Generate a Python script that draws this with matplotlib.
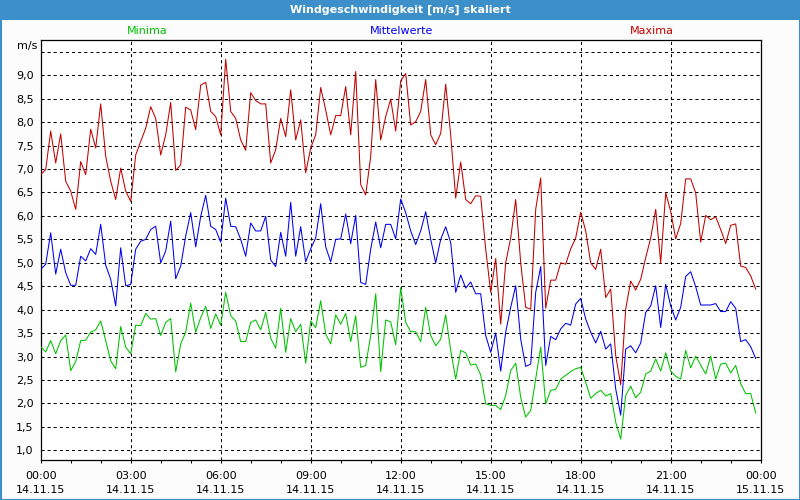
import matplotlib
matplotlib.use("Agg")
import matplotlib.pyplot as plt
from matplotlib.patches import Rectangle
import numpy as np

plt.rcParams['font.family'] = ['DejaVu Sans']
plt.rcParams['lines.scale_dashes'] = False

title = "Windgeschwindigkeit [m/s] skaliert"
series_names = ["Minima", "Mittelwerte", "Maxima"]
date_labels = ["14.11.15"] * 8 + ["15.11.15"]
time_labels = ["00:00", "03:00", "06:00", "09:00", "12:00", "15:00", "18:00", "21:00", "00:00"]

maxima = [6.88, 6.99, 7.81, 7.13, 7.75, 6.74, 6.53, 6.14, 7.16, 6.88, 7.85, 7.45, 8.39, 7.27, 6.74, 6.35, 7.02, 6.53, 6.31, 7.30, 7.59, 7.87, 8.33, 8.08, 7.30,
          7.73, 8.42, 6.97, 7.09, 8.32, 8.26, 7.84, 8.79, 8.85, 8.23, 8.12, 7.73, 9.34, 8.23, 8.08, 7.62, 7.40, 8.63, 8.46, 8.39, 8.39, 7.13, 7.41, 8.08,
          7.69, 8.69, 7.62, 8.05, 6.92, 7.45, 7.73, 8.74, 8.26, 7.73, 8.14, 8.14, 8.76, 7.73, 9.08, 6.67, 6.45, 7.27, 8.91, 7.62, 8.12, 8.49, 7.81, 8.88,
          9.04, 7.94, 8.01, 8.23, 8.91, 7.73, 7.52, 7.76, 8.81, 7.73, 6.38, 7.15, 6.35, 6.26, 6.43, 6.42, 5.29, 4.37, 5.09, 3.69, 5.00, 5.53, 6.35, 5.00,
          4.05, 4.01, 6.14, 6.81, 4.03, 4.63, 4.63, 5.00, 4.97, 5.30, 5.53, 6.08, 5.68, 5.00, 4.86, 5.29, 4.26, 4.44, 3.02, 2.40, 4.01, 4.61, 4.42, 4.65,
          5.11, 5.53, 6.14, 5.00, 6.49, 6.10, 5.51, 5.84, 6.79, 6.79, 6.49, 5.44, 6.01, 5.92, 5.98, 5.71, 5.41, 5.80, 5.83, 4.93, 4.90, 4.72, 4.44]

mittel = [4.86, 4.97, 5.64, 4.76, 5.29, 4.79, 4.52, 4.52, 5.14, 5.04, 5.30, 5.18, 5.82, 4.95, 4.65, 4.08, 5.32, 4.51, 4.54, 5.29, 5.46, 5.50, 5.71, 5.78, 5.00,
          5.25, 5.89, 4.66, 4.93, 5.57, 6.07, 5.34, 5.99, 6.44, 5.78, 5.71, 5.44, 6.38, 5.78, 5.77, 5.50, 5.14, 5.85, 5.68, 5.68, 5.99, 5.06, 4.92, 5.65,
          5.14, 6.29, 5.14, 5.77, 5.02, 5.30, 5.53, 6.26, 5.34, 5.02, 5.50, 5.51, 6.04, 5.41, 6.01, 4.58, 4.54, 5.29, 5.87, 5.32, 5.82, 5.82, 5.51, 6.36,
          6.07, 5.68, 5.39, 5.68, 6.09, 5.50, 5.00, 5.50, 5.77, 5.43, 4.37, 4.74, 4.46, 4.59, 4.34, 4.34, 3.45, 3.09, 3.50, 2.69, 3.52, 4.05, 4.51, 3.37,
          2.79, 2.84, 4.37, 4.92, 2.81, 3.43, 3.36, 3.59, 3.71, 3.67, 4.12, 4.24, 3.80, 3.52, 3.29, 3.54, 3.16, 3.27, 2.31, 1.75, 3.16, 3.23, 3.08, 3.29,
          3.94, 4.08, 4.51, 3.62, 4.54, 4.08, 3.78, 4.05, 4.71, 4.81, 4.49, 4.10, 4.10, 4.10, 4.13, 3.96, 3.96, 4.17, 4.03, 3.32, 3.36, 3.21, 2.96]

minima = [3.21, 3.10, 3.34, 3.06, 3.34, 3.46, 2.70, 2.89, 3.34, 3.35, 3.52, 3.57, 3.76, 3.34, 2.91, 2.74, 3.64, 3.20, 3.06, 3.67, 3.66, 3.92, 3.80, 3.81, 3.45,
          3.73, 3.81, 2.67, 3.27, 3.52, 4.14, 3.52, 3.83, 4.07, 3.60, 3.91, 3.67, 4.37, 3.87, 3.76, 3.32, 3.32, 3.73, 3.78, 3.57, 3.94, 3.39, 3.18, 4.03,
          3.09, 3.81, 3.53, 3.69, 2.86, 3.76, 3.62, 4.19, 3.48, 3.27, 3.89, 3.69, 3.92, 3.32, 3.87, 2.77, 2.81, 3.45, 4.34, 2.68, 3.78, 3.74, 3.25, 4.47,
          3.73, 3.53, 3.53, 3.32, 4.05, 3.45, 3.23, 3.37, 3.89, 3.13, 2.52, 3.13, 3.08, 2.82, 2.84, 2.61, 1.99, 1.96, 1.96, 1.87, 2.17, 2.70, 2.86, 2.13,
          1.71, 1.85, 2.52, 3.20, 1.99, 2.28, 2.30, 2.52, 2.60, 2.68, 2.74, 2.77, 2.45, 2.11, 2.21, 2.28, 2.16, 2.21, 1.60, 1.24, 2.17, 2.37, 2.12, 2.24,
          2.63, 2.69, 2.95, 2.69, 3.08, 2.69, 2.58, 2.52, 3.13, 2.76, 3.01, 2.82, 2.63, 3.01, 2.52, 2.84, 2.86, 2.65, 2.81, 2.42, 2.21, 2.21, 1.80]

hours = np.arange(len(maxima)) / 6.0  # 10-minute steps

C_MIN, C_MID, C_MAX = "#00c000", "#0000ee", "#c00000"
BAR = "#3c8fc8"

fig = plt.figure(figsize=(8, 5), dpi=100, facecolor="#fcfcfc")
ax = fig.add_axes([40.7 / 800, 39.7 / 500, 720 / 800, 420.3 / 500])
ax.set_facecolor("white")

lw = 0.75
ax.plot(hours, maxima, color=C_MAX, lw=lw, zorder=3)
ax.plot(hours, mittel, color=C_MID, lw=lw, zorder=3)
ax.plot(hours, minima, color=C_MIN, lw=lw, zorder=3)

ax.set_xlim(0, 24)
ax.set_ylim(0.787, 9.753)

yt = np.arange(1.0, 9.51, 0.5)
ax.set_yticks(yt)
ax.set_yticklabels([("%.1f" % v).replace(".", ",") if v < 9.4 else "" for v in yt])
ax.set_xticks(np.arange(0, 25, 3))
ax.set_xticklabels([f"{t}\n{d}" for t, d in zip(time_labels, date_labels)], linespacing=1.55)
ax.set_xticks(np.arange(0, 25, 1), minor=True)
ax.tick_params(axis="y", length=0, pad=5, labelsize=8, colors="black")
ax.tick_params(axis="x", which="both", direction="out", length=2.5, width=0.75, pad=5, labelsize=8)

for v in yt:
    ax.axhline(v, color="black", lw=0.75, ls=(0, (2.2, 2.2)), zorder=1)
for h in range(3, 24, 3):
    ax.axvline(h, color="black", lw=0.75, ls=(0, (2.2, 2.2)), zorder=1)

for s in ax.spines.values():
    s.set_linewidth(0.9)
    s.set_color("black")

ax.text(-0.005, 1 - 6 / 420, "m/s", transform=ax.transAxes, ha="right", va="center", fontsize=8)

fig.text(147 / 800, 1 - 31 / 500, series_names[0], color=C_MIN, ha="center", va="center", fontsize=8)
fig.text(402 / 800, 1 - 31 / 500, series_names[1], color=C_MID, ha="center", va="center", fontsize=8)
fig.text(652 / 800, 1 - 31 / 500, series_names[2], color=C_MAX, ha="center", va="center", fontsize=8)

fig.add_artist(Rectangle((0, 1 - 20 / 500), 1, 20 / 500, transform=fig.transFigure,
                         facecolor=BAR, edgecolor="none", zorder=0))
fig.add_artist(Rectangle((0.5 / 800, 0.5 / 500), 799 / 800, 499 / 500, transform=fig.transFigure,
                         facecolor="none", edgecolor=BAR, lw=1.5, zorder=5))
fig.text(0.5, 1 - 10 / 500, title, color="white", ha="center", va="center",
         fontsize=8, fontweight="bold")

fig.savefig("out.png", dpi=100, facecolor=fig.get_facecolor())
